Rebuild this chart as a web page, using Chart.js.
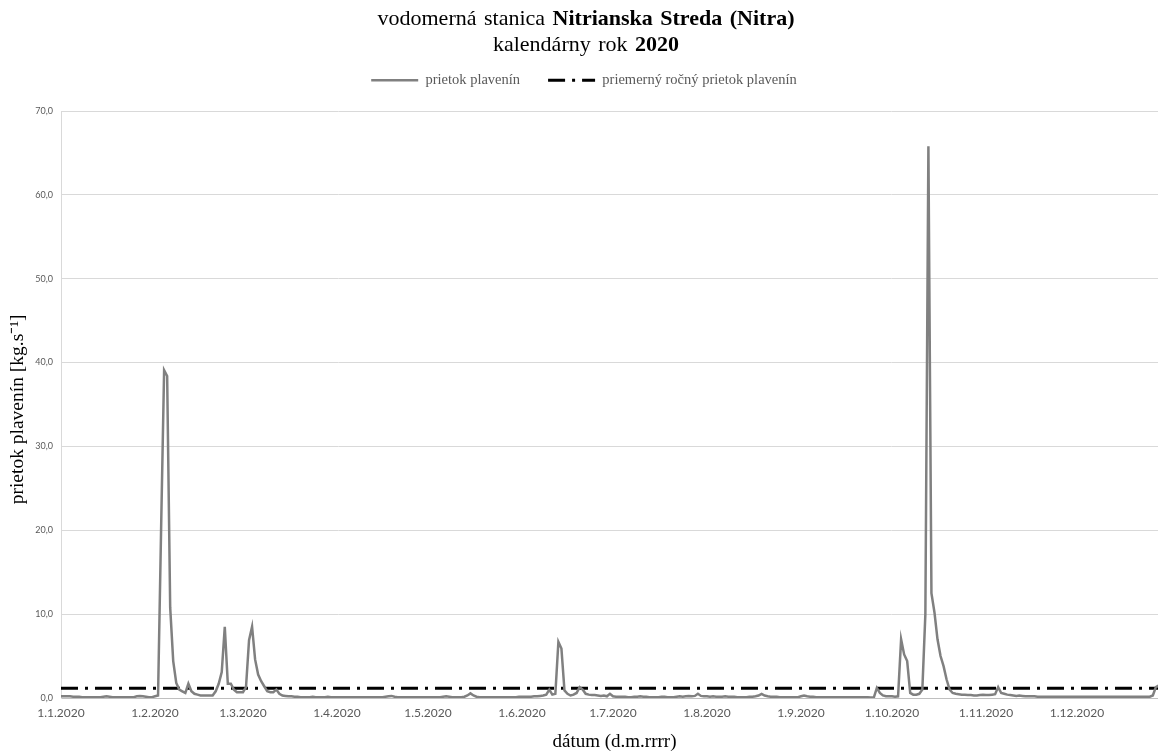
<!DOCTYPE html>
<html lang="sk">
<head>
<meta charset="utf-8">
<title>Nitrianska Streda 2020</title>
<script src="https://cdn.jsdelivr.net/npm/chart.js@4.4.1/dist/chart.umd.min.js"></script>
<style>
  html, body { margin: 0; padding: 0; background: #fff; overflow: hidden; }
  #obal { position: relative; width: 1172px; height: 753px; }
  #nadpis {
    position: absolute; top: 5px; left: 0; width: 1172px; text-align: center;
    font: 22px/26px "Liberation Serif", "Times New Roman", serif; color: #000;
    word-spacing: 2px;
  }
</style>
</head>
<body>
<div id="obal">
  <canvas id="graf"></canvas>
  <div id="nadpis">vodomerná stanica <b>Nitrianska Streda (Nitra)</b><br>kalendárny rok <b>2020</b></div>
</div>
<script>
// popisky osi x — prvý deň mesiaca (poradové číslo dňa v roku 2020)
const mesiaceZaciatok = [0, 31, 60, 91, 121, 152, 182, 213, 244, 274, 305, 335];
const mesiacePopisky = ["1.1.2020", "1.2.2020", "1.3.2020", "1.4.2020", "1.5.2020", "1.6.2020",
  "1.7.2020", "1.8.2020", "1.9.2020", "1.10.2020", "1.11.2020", "1.12.2020"];

// denný prietok plavenín [kg/s], odčítaný z grafu
const prietokJan = [0.2, 0.2, 0.2, 0.2, 0.15, 0.15, 0.15, 0.1, 0.1, 0.1,
  0.1, 0.1, 0.1, 0.1, 0.15, 0.2, 0.15, 0.1, 0.1, 0.1,
  0.1, 0.1, 0.1, 0.1, 0.1, 0.2, 0.25, 0.2, 0.15, 0.1, 0.1];
const prietokFeb = [0.2, 0.3, 20.0, 39.1, 38.4, 10.8, 4.4, 1.8, 1.0, 0.8,
  0.6, 1.7, 0.8, 0.5, 0.4, 0.3, 0.3, 0.3, 0.3, 0.3,
  0.8, 1.7, 3.1, 8.5, 1.7, 1.7, 1.0, 0.7, 0.7];
const prietokMar = [0.7, 1.3, 6.9, 8.5, 4.6, 2.8, 2.0, 1.4, 0.8, 0.7,
  0.7, 1.0, 0.5, 0.3, 0.25, 0.2, 0.2, 0.15, 0.15, 0.1,
  0.1, 0.1, 0.1, 0.15, 0.1, 0.1, 0.1, 0.1, 0.15, 0.1, 0.1];
const prietokApr = [0.1, 0.1, 0.1, 0.1, 0.1, 0.1, 0.1, 0.1, 0.1, 0.1,
  0.1, 0.1, 0.1, 0.1, 0.1, 0.1, 0.15, 0.2, 0.25, 0.15,
  0.1, 0.1, 0.1, 0.1, 0.1, 0.1, 0.1, 0.1, 0.1, 0.1];
const prietokMaj = [0.1, 0.1, 0.1, 0.1, 0.1, 0.15, 0.2, 0.15, 0.1, 0.1,
  0.1, 0.1, 0.15, 0.3, 0.55, 0.3, 0.15, 0.1, 0.1, 0.1,
  0.1, 0.1, 0.1, 0.1, 0.1, 0.1, 0.1, 0.1, 0.1, 0.1, 0.15];
const prietokJun = [0.15, 0.15, 0.15, 0.15, 0.2, 0.2, 0.25, 0.3, 0.4, 1.0,
  0.4, 0.5, 6.7, 5.9, 0.9, 0.5, 0.3, 0.4, 0.6, 1.3,
  1.0, 0.5, 0.4, 0.35, 0.35, 0.3, 0.25, 0.3, 0.2, 0.5];
const prietokJul = [0.2, 0.15, 0.15, 0.15, 0.15, 0.1, 0.1, 0.15, 0.15, 0.2,
  0.15, 0.15, 0.1, 0.1, 0.1, 0.1, 0.15, 0.15, 0.1, 0.1,
  0.1, 0.15, 0.2, 0.15, 0.2, 0.25, 0.2, 0.25, 0.5, 0.25, 0.2];
const prietokAug = [0.2, 0.15, 0.2, 0.15, 0.15, 0.15, 0.2, 0.15, 0.15, 0.15,
  0.1, 0.1, 0.1, 0.1, 0.15, 0.15, 0.2, 0.3, 0.5, 0.3,
  0.2, 0.15, 0.15, 0.15, 0.1, 0.1, 0.1, 0.1, 0.1, 0.1, 0.1];
const prietokSep = [0.2, 0.3, 0.2, 0.15, 0.15, 0.1, 0.1, 0.1, 0.1, 0.1,
  0.1, 0.1, 0.1, 0.1, 0.1, 0.1, 0.1, 0.1, 0.1, 0.1,
  0.1, 0.1, 0.1, 0.05, 0.05, 1.2, 0.6, 0.3, 0.2, 0.2];
const prietokOkt = [0.2, 0.15, 0.2, 7.0, 5.2, 4.4, 0.6, 0.4, 0.4, 0.5,
  1.0, 10.0, 65.8, 12.5, 10.2, 7.0, 5.0, 3.8, 2.2, 1.0,
  0.6, 0.5, 0.45, 0.4, 0.4, 0.35, 0.35, 0.3, 0.3, 0.35, 0.4];
const prietokNov = [0.35, 0.35, 0.4, 0.45, 1.3, 0.6, 0.5, 0.4, 0.35, 0.3,
  0.25, 0.3, 0.25, 0.2, 0.2, 0.2, 0.2, 0.15, 0.15, 0.15,
  0.15, 0.15, 0.15, 0.15, 0.15, 0.15, 0.15, 0.15, 0.15, 0.15];
const prietokDec = [0.15, 0.15, 0.15, 0.15, 0.15, 0.15, 0.15, 0.15, 0.15, 0.15,
  0.15, 0.15, 0.15, 0.15, 0.15, 0.15, 0.15, 0.15, 0.15, 0.15,
  0.15, 0.15, 0.15, 0.15, 0.15, 0.3, 1.3, 1.5, 1.0, 0.8, 0.6];

const priemernyRocnyPrietok = 1.15;

const prietokPlavenin = [].concat(prietokJan, prietokFeb, prietokMar, prietokApr, prietokMaj,
  prietokJun, prietokJul, prietokAug, prietokSep, prietokOkt, prietokNov, prietokDec);
// os x je číselná: deň v roku (0 = 1.1.2020)
const dni = prietokPlavenin.map((_, i) => i);

const SERIF = "'Liberation Serif', 'Times New Roman', serif";
const SANS = "Lato, 'Open Sans', sans-serif";

// legenda potrebuje viac miesta pod sebou než jej Chart.js dá sám
const vyskaLegendy = {
  id: "vyskaLegendy",
  beforeInit(chart) {
    const fit = chart.legend.fit;
    chart.legend.fit = function () { fit.call(this); this.height = 66; };
  },
};

// s usePointStyle berie Chart.js štýl z bodu, nie z čiary — prerušovanie
// a hrúbku čiary treba do legendy doplniť z datasetu
function popiskyLegendy(chart) {
  return Chart.defaults.plugins.legend.labels.generateLabels(chart).map((item) => {
    const ds = chart.data.datasets[item.datasetIndex];
    return Object.assign(item, {
      lineDash: ds.borderDash || [],
      lineWidth: ds.borderWidth,
      strokeStyle: ds.borderColor,
    });
  });
}

new Chart(document.getElementById("graf"), {
  type: "line",
  data: {
    labels: dni,
    datasets: [
      {
        label: "prietok plavenín",
        data: prietokPlavenin,
        borderColor: "#808080",
        backgroundColor: "#808080",
        borderWidth: 2.5,
        pointRadius: 0,
        tension: 0,
      },
      {
        label: "priemerný ročný prietok plavenín",
        data: [{ x: 0, y: priemernyRocnyPrietok }, { x: dni[dni.length - 1], y: priemernyRocnyPrietok }],
        borderColor: "#000",
        backgroundColor: "#000",
        borderWidth: 3,
        borderDash: [17, 7, 3, 7],
        pointRadius: 0,
      },
    ],
  },
  options: {
    responsive: true,
    maintainAspectRatio: false,
    devicePixelRatio: 1,
    animation: false,
    events: [],
    layout: { padding: { top: 45, left: 0, right: 4, bottom: 0 } },
    plugins: {
      legend: {
        position: "top",
        labels: {
          usePointStyle: true,
          pointStyle: "line",
          pointStyleWidth: 47,
          padding: 28,
          color: "#595959",
          font: { family: SERIF, size: 14.5 },
          generateLabels: popiskyLegendy,
        },
      },
      tooltip: { enabled: false },
    },
    scales: {
      x: {
        type: "linear",
        min: 0,
        max: 365,
        afterBuildTicks: (s) => { s.ticks = mesiaceZaciatok.map((v) => ({ value: v })); },
        afterFit: (s) => { s.height = 55; },
        ticks: {
          autoSkip: false,
          maxRotation: 0,
          padding: 8,
          color: "#595959",
          font: { family: SANS, size: 12 },
          callback: (v) => mesiacePopisky[mesiaceZaciatok.indexOf(v)],
        },
        grid: { display: false, drawTicks: false },
        border: { display: true, color: "#bfbfbf", width: 1 },
        title: {
          display: true,
          text: "dátum (d.m.rrrr)",
          color: "#000",
          font: { family: SERIF, size: 19 },
          padding: { top: 0, bottom: 0 },
        },
      },
      y: {
        min: 0,
        max: 70,
        afterFit: (s) => { s.width = 61; },
        ticks: {
          stepSize: 10,
          padding: 8,
          color: "#595959",
          font: { family: SANS, size: 9 },
          callback: (v) => v.toFixed(1).replace(".", ","),
        },
        grid: { color: "#d9d9d9", drawTicks: false },
        border: { display: true, color: "#d9d9d9" },
        title: {
          display: true,
          // dve medzery na konci posúvajú text trochu nadol, ako v predlohe
          text: "prietok plavenín [kg.s⁻¹]\u00a0\u00a0",
          color: "#000",
          font: { family: SERIF, size: 19.5 },
          padding: { top: 6, bottom: 0 },
        },
      },
    },
  },
  plugins: [vyskaLegendy],
});
</script>
</body>
</html>
